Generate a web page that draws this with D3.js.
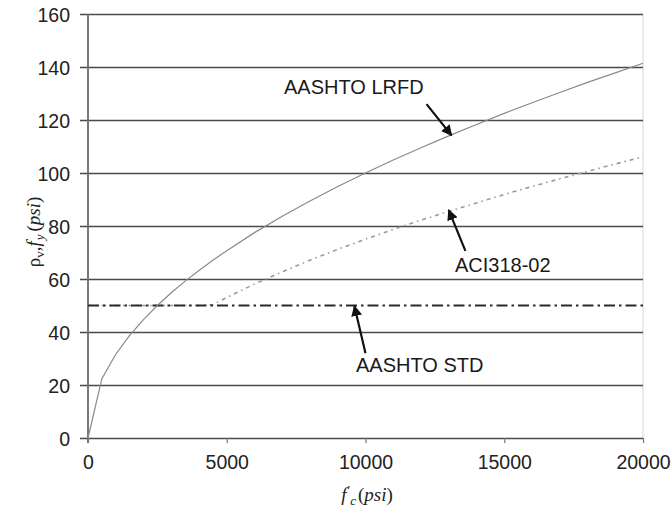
<!DOCTYPE html>
<html>
<head>
<meta charset="utf-8">
<script src="https://cdn.jsdelivr.net/npm/d3@7"></script>
<style>
  html, body { margin: 0; padding: 0; background: #fff; }
  svg { display: block; }
  .tick-label { font-family: "Liberation Sans", Arial, sans-serif; font-size: 19.5px; fill: #222; }
  .note { font-family: "Liberation Sans", Arial, sans-serif; font-size: 20px; fill: #1a1a1a; }
  .title { font-family: "Liberation Serif", "Times New Roman", serif; font-size: 19px; fill: #222; }
</style>
</head>
<body>
<svg id="chart" width="671" height="512"></svg>
<script>
// Concrete strength f'c (psi) sample points
const fcValues = [0, 500, 1000, 1500, 2000, 2500, 3000, 3500, 4000, 4500, 5000,
  6000, 7000, 8000, 9000, 10000, 11000, 12000, 13000, 14000, 15000,
  16000, 17000, 18000, 19000, 20000];

// Minimum transverse reinforcement ρv·fy (psi) for each provision
const lrfdValues = [0, 22.4, 31.6, 38.7, 44.7, 50.0, 54.8, 59.2, 63.2, 67.1, 70.7,
  77.5, 83.7, 89.4, 94.9, 100.0, 104.9, 109.5, 114.0, 118.3, 122.5,
  126.5, 130.4, 134.2, 137.8, 141.4];
const aciValues = [50, 50, 50, 50, 50, 50, 50, 50, 50, 50.3, 53.0,
  58.1, 62.7, 67.1, 71.2, 75.0, 78.7, 82.2, 85.5, 88.7, 91.9,
  94.9, 97.8, 100.6, 103.4, 106.1];
const stdValues = [50, 50, 50, 50, 50, 50, 50, 50, 50, 50, 50,
  50, 50, 50, 50, 50, 50, 50, 50, 50, 50,
  50, 50, 50, 50, 50];

const xTicks = [0, 5000, 10000, 15000, 20000];
const yTicks = [0, 20, 40, 60, 80, 100, 120, 140, 160];

// Callout labels: text, anchor point of the label, and the point the arrow hits (data units)
const callouts = [
  { text: "AASHTO LRFD", lx: 284, ly: 94, from: [12200, 126], to: [13100, 114.2] },
  { text: "ACI318-02", lx: 455, ly: 272, from: [13600, 70.6], to: [13000, 86.0] },
  { text: "AASHTO STD", lx: 356, ly: 372, from: [10000, 32.0], to: [9600, 49.8] }
];

const svg = d3.select("#chart");
const margin = { left: 88, right: 28, top: 14, bottom: 74 };
const W = 671, H = 512;

const x = d3.scaleLinear().domain([0, 20000]).range([margin.left, W - margin.right]);
const y = d3.scaleLinear().domain([0, 160]).range([H - margin.bottom, margin.top]);

// light plot-area frame on the right
svg.append("line")
  .attr("x1", x(20000)).attr("x2", x(20000))
  .attr("y1", y(160)).attr("y2", y(0))
  .attr("stroke", "#e4e4e4").attr("stroke-width", 1.5);

// horizontal gridlines with short ticks extending left
const yAxis = d3.axisLeft(y).tickValues(yTicks)
  .tickSize(-(x(20000) - x(0))).tickSizeOuter(0).tickFormat("");
const gy = svg.append("g").attr("transform", `translate(${x(0)},0)`).call(yAxis);
gy.select(".domain").remove();
gy.selectAll(".tick line")
  .attr("x1", -8)
  .attr("stroke", "#4a4a4a").attr("stroke-width", 1.6);
gy.selectAll(".tick").append("text")
  .attr("class", "tick-label")
  .attr("x", -18).attr("dy", "0.36em")
  .attr("text-anchor", "end")
  .text(d => d);

// vertical axis line
svg.append("line")
  .attr("x1", x(0)).attr("x2", x(0))
  .attr("y1", y(160)).attr("y2", y(0) + 5)
  .attr("stroke", "#6a6a6a").attr("stroke-width", 1.8);

// bottom axis ticks and labels
const xAxis = d3.axisBottom(x).tickValues(xTicks).tickSize(5).tickSizeOuter(0).tickFormat("");
const gx = svg.append("g").attr("transform", `translate(0,${y(0)})`).call(xAxis);
gx.select(".domain").remove();
gx.selectAll(".tick line").attr("stroke", "#777").attr("stroke-width", 1.2);
gx.selectAll(".tick").append("text")
  .attr("class", "tick-label")
  .attr("y", 31)
  .attr("text-anchor", "middle")
  .text(d => d);

// series lines
const line = vals => d3.line()
  .x((d, i) => x(fcValues[i]))
  .y(d => y(d))(vals);

svg.append("path").attr("d", line(aciValues))
  .attr("fill", "none").attr("stroke", "#9a9a9a").attr("stroke-width", 1.6)
  .attr("stroke-dasharray", "4,4,1.5,4");

svg.append("path").attr("d", line(stdValues))
  .attr("fill", "none").attr("stroke", "#2a2a2a").attr("stroke-width", 2)
  .attr("stroke-dasharray", "11,4,2.5,4");

svg.append("path").attr("d", line(lrfdValues))
  .attr("fill", "none").attr("stroke", "#8a8a8a").attr("stroke-width", 1.2);

// arrowheads
svg.append("defs").append("marker")
  .attr("id", "arrow")
  .attr("viewBox", "0 0 10 10")
  .attr("refX", 9).attr("refY", 5)
  .attr("markerWidth", 5).attr("markerHeight", 5)
  .attr("markerUnits", "strokeWidth")
  .attr("orient", "auto")
  .append("path").attr("d", "M0,0 L10,5 L0,10 Z").attr("fill", "#111");

const g = svg.append("g");
callouts.forEach(c => {
  g.append("line")
    .attr("x1", x(c.from[0])).attr("y1", y(c.from[1]))
    .attr("x2", x(c.to[0])).attr("y2", y(c.to[1]))
    .attr("stroke", "#111").attr("stroke-width", 2.2)
    .attr("marker-end", "url(#arrow)");
  g.append("text").attr("class", "note")
    .attr("x", c.lx).attr("y", c.ly).text(c.text);
});

// axis titles
const xt = svg.append("text").attr("class", "title")
  .attr("x", 367).attr("y", 501).attr("text-anchor", "middle");
xt.append("tspan").attr("font-style", "italic").text("f");
xt.append("tspan").attr("font-size", "13px").attr("dy", -7).attr("dx", 1).text("′");
xt.append("tspan").attr("font-style", "italic").attr("font-size", "13px").attr("dy", 11).text("c");
xt.append("tspan").attr("dy", -4).attr("dx", 2).text("(");
xt.append("tspan").attr("font-style", "italic").text("psi");
xt.append("tspan").text(")");

const yt = svg.append("text").attr("class", "title")
  .attr("transform", "translate(40,232) rotate(-90)")
  .attr("text-anchor", "middle");
yt.append("tspan").text("ρ");
yt.append("tspan").attr("font-size", "13px").attr("dy", 4).text("v");
yt.append("tspan").attr("dy", -4).text(",");
yt.append("tspan").attr("font-style", "italic").text("f");
yt.append("tspan").attr("font-style", "italic").attr("font-size", "13px").attr("dy", 4).attr("dx", 1).text("y");
yt.append("tspan").attr("dy", -4).attr("dx", 3).text("(");
yt.append("tspan").attr("font-style", "italic").text("psi");
yt.append("tspan").text(")");
</script>
</body>
</html>
